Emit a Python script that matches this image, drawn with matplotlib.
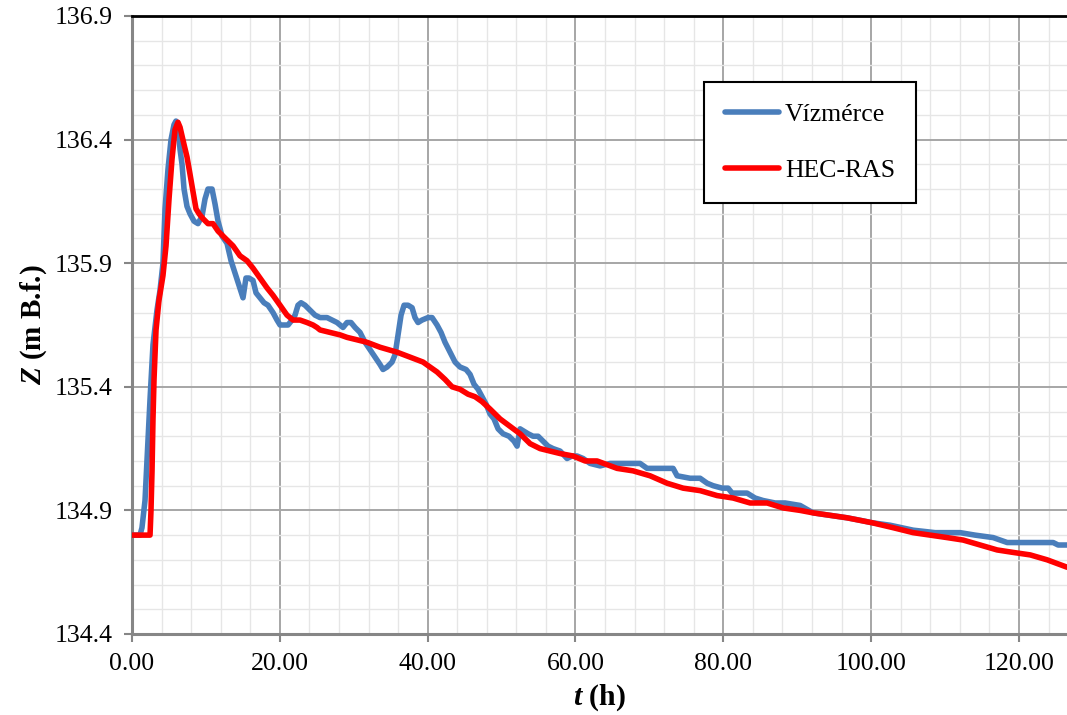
import matplotlib
matplotlib.use("Agg")
import matplotlib.pyplot as plt
from matplotlib.ticker import MultipleLocator, FixedLocator

plt.rcParams['font.family'] = ['Liberation Serif', 'DejaVu Serif']
plt.rcParams['mathtext.fontset'] = 'custom'
plt.rcParams['mathtext.it'] = 'Liberation Serif:bold:italic'
plt.rcParams['mathtext.rm'] = 'Liberation Serif:bold'

# Vízmérce (gauge) series
t_gauge = [0.00, 1.08, 1.35, 1.76, 2.17, 2.44, 2.84, 3.38, 3.79, 4.19, 4.47, 4.87, 5.28, 5.68, 5.95,
           6.22, 6.50, 6.77, 7.04, 7.44, 7.85, 8.39, 8.93, 9.47, 9.88, 10.28, 10.83, 11.23, 11.64,
           12.18, 12.86, 13.40, 13.94, 14.48, 15.02, 15.42, 15.83, 16.37, 16.78, 17.32, 17.86, 18.40,
           19.08, 19.62, 20.03, 20.57, 21.11, 21.65, 22.06, 22.46, 22.87, 23.41, 24.09, 24.76, 25.44,
           26.39, 27.06, 27.74, 28.55, 29.09, 29.63, 30.18, 30.85, 31.53, 32.21, 32.88, 33.56, 33.96,
           34.51, 35.18, 35.59, 35.99, 36.40, 36.81, 37.35, 37.89, 38.29, 38.70, 39.24, 40.05, 40.60,
           41.27, 41.81, 42.35, 43.03, 43.71, 44.38, 45.20, 45.74, 46.28, 46.82, 47.36, 47.90, 48.44,
           48.98, 49.53, 50.20, 51.01, 51.69, 52.10, 52.50, 53.04, 53.59, 54.26, 54.94, 55.62, 56.29,
           56.97, 57.92, 58.86, 59.54, 60.22, 61.03, 61.98, 63.33, 64.68, 66.04, 67.39, 68.74, 69.69,
           71.45, 73.21, 73.75, 75.51, 76.86, 77.81, 78.62, 79.84, 80.65, 81.19, 82.27, 83.22, 84.30,
           85.38, 87.01, 88.36, 90.39, 92.15, 94.45, 96.75, 98.51, 100.14, 102.57, 105.68, 108.66,
           112.04, 114.07, 116.51, 117.46, 118.41, 121.52, 124.63, 125.30, 126.52]
z_gauge = [134.80, 134.80, 134.83, 134.94, 135.19, 135.35, 135.57, 135.71, 135.79, 135.90, 136.12, 136.28,
           136.40, 136.46, 136.475, 136.46, 136.36, 136.30, 136.20, 136.13, 136.10, 136.07, 136.06, 136.09,
           136.16, 136.20, 136.20, 136.14, 136.07, 136.01, 135.98, 135.91, 135.86, 135.81, 135.76, 135.84,
           135.84, 135.83, 135.78, 135.76, 135.74, 135.73, 135.70, 135.67, 135.65, 135.65, 135.65, 135.67,
           135.69, 135.73, 135.74, 135.73, 135.71, 135.69, 135.68, 135.68, 135.67, 135.66, 135.64, 135.66,
           135.66, 135.64, 135.62, 135.58, 135.55, 135.52, 135.49, 135.47, 135.48, 135.50, 135.53, 135.61,
           135.69, 135.73, 135.73, 135.72, 135.68, 135.66, 135.67, 135.68, 135.68, 135.65, 135.62, 135.58,
           135.54, 135.50, 135.48, 135.47, 135.45, 135.41, 135.39, 135.36, 135.33, 135.29, 135.27, 135.23,
           135.21, 135.20, 135.18, 135.16, 135.23, 135.22, 135.21, 135.20, 135.20, 135.18, 135.16, 135.15,
           135.14, 135.11, 135.12, 135.12, 135.11, 135.09, 135.08, 135.09, 135.09, 135.09, 135.09, 135.07,
           135.07, 135.07, 135.04, 135.03, 135.03, 135.01, 135.00, 134.99, 134.99, 134.97, 134.97, 134.97,
           134.95, 134.94, 134.93, 134.93, 134.92, 134.89, 134.88, 134.87, 134.86, 134.85, 134.84, 134.82,
           134.81, 134.81, 134.80, 134.79, 134.78, 134.77, 134.77, 134.77, 134.76, 134.76]

# HEC-RAS model series
t_model = [0.00, 2.44, 2.57, 2.71, 2.84, 2.98, 3.25, 3.65, 4.19, 4.60, 5.01, 5.41, 5.82, 6.22, 6.50,
           7.04, 7.44, 7.85, 8.25, 8.66, 9.07, 9.61, 10.28, 10.96, 11.64, 12.31, 12.99, 13.67, 14.61,
           15.56, 16.37, 17.32, 18.27, 19.08, 20.03, 20.97, 21.79, 22.73, 23.68, 24.49, 25.03, 25.44,
           26.79, 28.15, 29.09, 30.45, 31.80, 33.56, 35.86, 37.62, 39.38, 40.32, 41.27, 42.35, 43.30,
           44.38, 45.47, 46.41, 47.36, 48.44, 49.80, 51.15, 52.50, 53.86, 55.21, 56.56, 57.92, 59.68,
           61.30, 62.92, 65.63, 67.79, 70.09, 72.39, 74.56, 76.86, 79.16, 81.33, 83.63, 85.93, 88.09,
           90.39, 92.15, 94.45, 96.75, 100.14, 102.98, 105.68, 107.98, 110.28, 112.45, 114.75, 117.05,
           119.22, 121.52, 123.82, 126.52]
z_model = [134.80, 134.80, 134.90, 135.06, 135.27, 135.43, 135.63, 135.75, 135.85, 135.97, 136.16, 136.32,
           136.44, 136.47, 136.45, 136.38, 136.33, 136.26, 136.19, 136.12, 136.10, 136.08, 136.06, 136.06,
           136.03, 136.01, 135.99, 135.97, 135.93, 135.91, 135.88, 135.84, 135.80, 135.77, 135.73, 135.69,
           135.67, 135.67, 135.66, 135.65, 135.64, 135.63, 135.62, 135.61, 135.60, 135.59, 135.58, 135.56,
           135.54, 135.52, 135.50, 135.48, 135.46, 135.43, 135.40, 135.39, 135.37, 135.36, 135.34, 135.31,
           135.27, 135.24, 135.21, 135.17, 135.15, 135.14, 135.13, 135.12, 135.10, 135.10, 135.07, 135.06,
           135.04, 135.01, 134.99, 134.98, 134.96, 134.95, 134.93, 134.93, 134.91, 134.90, 134.89, 134.88,
           134.87, 134.85, 134.83, 134.81, 134.80, 134.79, 134.78, 134.76, 134.74, 134.73, 134.72, 134.70,
           134.67]

x_ticks = [0, 20, 40, 60, 80, 100, 120]
x_tick_labels = ["0.00", "20.00", "40.00", "60.00", "80.00", "100.00", "120.00"]
y_ticks = [134.4, 134.9, 135.4, 135.9, 136.4, 136.9]
y_tick_labels = ["134.4", "134.9", "135.4", "135.9", "136.4", "136.9"]

fig = plt.figure(figsize=(10.67, 7.15), dpi=100)
ax = fig.add_axes([132/1067, 1-634/715, (1067-132)/1067, (634-16)/715])

ax.plot(t_gauge, z_gauge, color='#4a7ebb', lw=4.0, solid_joinstyle='round', solid_capstyle='round',
        label='Vízmérce', zorder=3)
ax.plot(t_model, z_model, color='#ff0000', lw=4.0, solid_joinstyle='round', solid_capstyle='round',
        label='HEC-RAS', zorder=4)

ax.set_xlim(0, 126.5)
ax.set_ylim(134.4, 136.9)
ax.xaxis.set_major_locator(FixedLocator(x_ticks))
ax.set_xticklabels(x_tick_labels)
ax.yaxis.set_major_locator(FixedLocator(y_ticks))
ax.set_yticklabels(y_tick_labels)
ax.xaxis.set_minor_locator(MultipleLocator(4))
ax.yaxis.set_minor_locator(MultipleLocator(0.1))

ax.grid(which='major', color='#a6a6a6', lw=1.4, zorder=1)
ax.grid(which='minor', color='#e6e6e6', lw=1.0, zorder=0)
ax.set_axisbelow(True)

ax.tick_params(which='major', direction='out', length=6, width=1.5, color='#868686',
               labelsize=18.5, pad=8)
ax.tick_params(which='minor', length=0)

for side in ['left', 'bottom']:
    ax.spines[side].set_color('#868686')
    ax.spines[side].set_linewidth(2.2)
ax.spines['top'].set_color('black')
ax.spines['top'].set_linewidth(2)
ax.spines['right'].set_visible(False)

ax.set_xlabel('$t$ (h)', fontsize=21.5, fontweight='bold', labelpad=5)
ax.set_ylabel('$Z$ (m B.f.)', fontsize=21, fontweight='bold', labelpad=4)

leg = ax.legend(loc='upper left', bbox_to_anchor=(0.612, 0.893), fontsize=18.5,
                frameon=True, fancybox=False, edgecolor='black', framealpha=1,
                handlelength=2.1, handletextpad=0.25, labelspacing=1.3, borderpad=0.8,
                borderaxespad=0)
leg.get_frame().set_linewidth(1.5)

fig.savefig('out.png', dpi=100)
